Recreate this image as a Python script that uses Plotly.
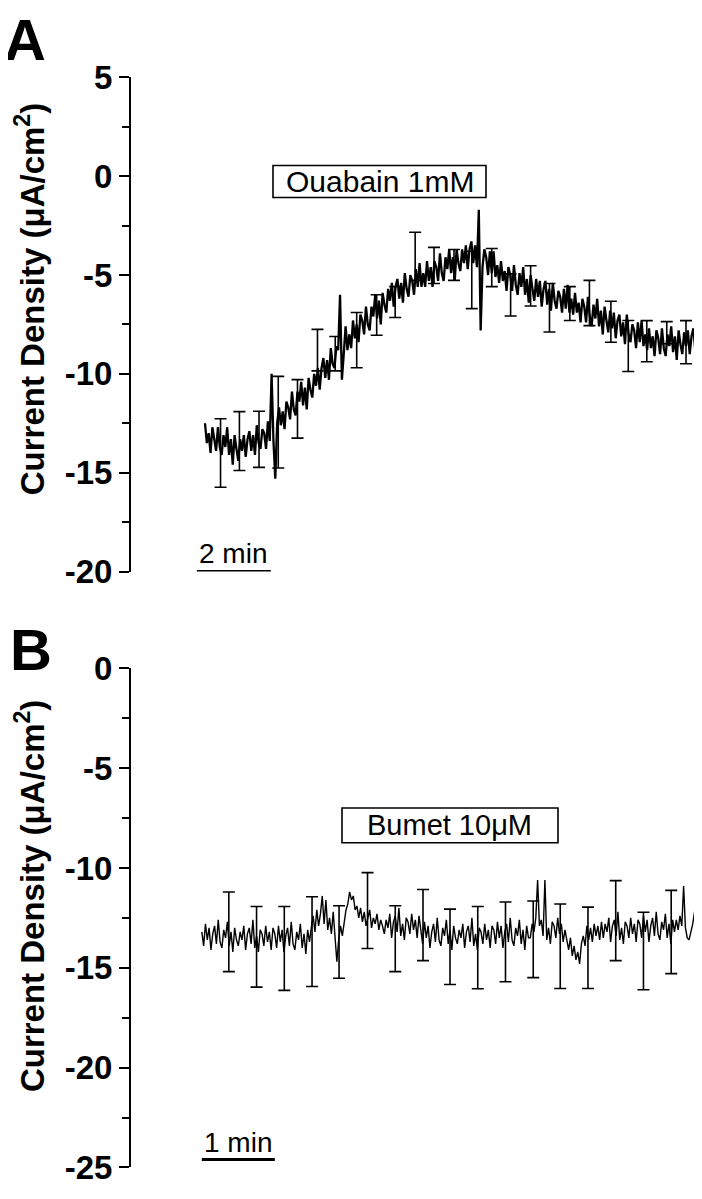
import plotly.graph_objects as go

# page body has an 8px margin, so the figure is drawn 8px smaller and positions are shifted
OFF = 8
FW, FH = 702 - OFF, 1199 - OFF

# ---- panel A: ouabain trace (minutes, uA/cm2), sampled every 0.05 min from 2.0 ----
a_t0, a_dt = 2.0, 0.05
a_vals = [
    -12.5, -13.5, -13.0, -14.0, -12.7, -13.2, -13.9, -12.7, -13.7, -14.1, -13.1, -13.7, -12.7, -14.1, -13.3, -14.6, -13.1, -13.8, -14.4, -13.3,
    -13.9, -13.1, -14.2, -13.3, -12.9, -13.9, -13.1, -14.1, -12.6, -13.5, -13.8, -12.8, -13.0, -13.8, -12.4, -13.4, -10.0, -13.4, -15.3, -12.5,
    -11.7, -12.6, -11.9, -12.8, -11.4, -11.7, -12.3, -10.9, -11.8, -12.1, -10.9, -11.4, -10.4, -11.6, -10.7, -11.8, -10.2, -10.8, -11.2, -10.0,
    -10.6, -9.7, -10.8, -9.7, -9.2, -10.2, -9.3, -10.3, -8.7, -9.5, -9.7, -8.6, -8.8, -6.0, -10.3, -9.0, -7.6, -8.8, -8.0, -8.7,
    -7.3, -8.2, -7.5, -8.4, -7.0, -7.3, -8.0, -6.6, -7.5, -7.8, -6.6, -7.1, -6.0, -7.2, -6.3, -7.5, -5.9, -6.5, -6.9, -5.7,
    -6.3, -5.4, -6.6, -5.6, -5.2, -6.2, -5.4, -6.4, -4.9, -5.7, -6.1, -5.0, -5.3, -6.0, -4.7, -5.6, -4.4, -5.6, -4.9, -5.6,
    -4.3, -5.3, -4.6, -5.6, -4.3, -4.6, -5.3, -3.9, -4.9, -5.3, -4.1, -4.7, -3.7, -4.9, -4.1, -5.3, -3.7, -4.4, -4.8, -3.7,
    -4.4, -3.5, -4.7, -3.7, -3.3, -4.4, -3.5, -4.6, -1.7, -7.8, -4.6, -3.7, -4.1, -5.0, -3.8, -4.9, -3.8, -5.1, -4.5, -5.4,
    -4.3, -5.3, -4.8, -5.8, -4.6, -5.0, -5.8, -4.5, -5.5, -6.0, -4.9, -5.6, -4.6, -6.0, -5.2, -6.4, -5.0, -5.7, -6.3, -5.2,
    -6.1, -5.3, -6.6, -5.7, -5.3, -6.5, -5.7, -6.8, -5.4, -6.3, -6.7, -5.8, -6.1, -6.9, -5.7, -6.7, -5.5, -6.9, -6.2, -7.0,
    -5.9, -6.9, -6.4, -7.4, -6.2, -6.6, -7.4, -6.1, -7.1, -7.6, -6.5, -7.2, -6.2, -7.6, -6.8, -8.0, -6.6, -7.3, -7.9, -6.8,
    -7.7, -6.9, -8.2, -7.3, -7.0, -8.1, -7.4, -8.5, -7.0, -8.0, -8.4, -7.5, -7.8, -8.7, -7.4, -8.4, -7.3, -8.6, -8.0, -8.8,
    -7.7, -8.7, -8.1, -9.1, -7.8, -8.2, -9.0, -7.7, -8.7, -9.1, -8.0, -8.6, -7.6, -8.9, -8.1, -9.3, -7.8, -8.5, -9.0, -7.9,
    -8.6, -7.8, -9.0, -8.1, -7.7, -8.8,
]
a_err_t = [2.42, 2.93, 3.46, 3.98, 4.50, 5.04, 5.52, 6.10, 6.64, 7.14, 7.68, 8.19, 8.73,
           9.21, 9.75, 10.26, 10.80, 11.31, 11.86, 12.39, 12.97, 13.44, 13.94, 14.48, 15.0]
a_err_top = [-12.27, -11.91, -11.89, -10.13, -10.29, -7.75, -8.11, -6.9, -6.0, -5.59, -2.84, -3.6, -3.71,
             -3.8, -3.66, -4.94, -4.53, -5.43, -5.59, -5.27, -6.33, -7.3, -7.31, -7.36, -7.31]
a_err_bot = [-15.74, -14.89, -14.73, -14.76, -13.25, -9.85, -9.85, -9.69, -8.05, -7.15, -5.27, -5.43, -5.27,
             -6.70, -5.59, -7.07, -6.57, -7.88, -7.3, -7.56, -8.4, -9.88, -9.39, -8.48, -9.49]

# ---- panel B: bumetanide trace, sampled every 0.025 min from 0.97 ----
b_t0, b_dt = 0.97, 0.025
b_vals = [
    -13.2, -13.9, -12.8, -13.6, -13.0, -14.1, -13.3, -12.9, -13.8, -12.6, -13.7, -14.0, -13.1, -13.5, -12.7, -13.9, -13.2, -14.2, -13.0, -13.6,
    -13.9, -13.2, -13.6, -12.9, -14.1, -13.3, -13.0, -13.8, -12.6, -14.0, -13.4, -14.2, -13.1, -13.3, -13.9, -12.9, -13.7, -13.2, -14.1, -13.0,
    -13.3, -14.0, -12.9, -13.7, -13.1, -14.2, -13.4, -13.0, -13.9, -12.7, -13.8, -14.1, -13.2, -13.6, -12.8, -14.0, -13.3, -14.3, -13.1, -13.7,
    -13.0, -12.4, -13.2, -12.1, -12.9, -12.3, -11.4, -12.8, -11.6, -13.1, -12.5, -13.3, -12.2, -13.5, -14.7, -13.6, -12.9, -13.4, -12.6, -12.1,
    -11.8, -11.2, -11.6, -11.4, -12.1, -11.9, -12.5, -12.0, -12.7, -12.2, -12.9, -12.4, -12.1, -13.0, -12.5, -12.8, -12.3, -13.1, -12.6, -12.9,
    -13.3, -12.6, -13.0, -12.3, -13.5, -12.7, -12.4, -13.2, -12.0, -13.4, -12.8, -13.6, -12.5, -12.7, -13.3, -12.3, -13.1, -12.6, -13.5, -12.4,
    -13.1, -13.8, -12.7, -13.5, -12.9, -14.0, -13.2, -12.8, -13.7, -12.5, -13.6, -13.9, -13.0, -13.4, -12.6, -13.8, -13.1, -14.1, -12.9, -13.5,
    -13.8, -13.1, -13.5, -12.8, -14.0, -13.2, -12.9, -13.7, -12.5, -13.9, -13.3, -14.1, -13.0, -13.2, -13.8, -12.8, -13.6, -13.1, -14.0, -12.9,
    -13.1, -13.8, -12.7, -13.5, -12.9, -14.0, -13.2, -12.8, -13.7, -12.5, -13.6, -13.9, -13.0, -13.4, -12.6, -13.8, -13.1, -14.1, -12.9, -13.5,
    -13.5, -12.8, -13.2, -12.5, -10.6, -12.9, -12.6, -13.4, -10.6, -13.6, -13.0, -13.8, -12.7, -12.9, -13.5, -12.5, -13.3, -12.8, -13.7, -13.1,
    -13.6, -14.1, -13.5, -14.4, -13.9, -14.6, -14.2, -14.8, -13.8, -13.4, -13.9, -12.9, -13.6, -13.0, -13.7, -12.8, -13.4, -12.9, -13.6, -12.7,
    -13.5, -12.8, -13.2, -12.5, -13.7, -12.9, -12.6, -13.4, -12.2, -13.6, -13.0, -13.8, -12.7, -12.9, -13.5, -12.5, -13.3, -12.8, -13.7, -12.6,
    -12.8, -13.5, -12.4, -13.2, -12.6, -13.7, -12.9, -12.5, -13.4, -12.2, -13.3, -13.6, -12.7, -13.1, -12.3, -13.5, -12.8, -13.8, -12.6, -13.2,
    -12.6, -13.1, -12.4, -12.9, -10.9, -13.0, -13.5, -13.6, -13.2, -12.8, -12.2, -11.6, -11.2,
]
b_err_t = [1.34, 1.72, 2.10, 2.48, 2.85, 3.24, 3.62, 4.00, 4.37, 4.75, 5.13, 5.51, 5.88, 6.26, 6.64, 7.02, 7.40]
b_err_top = [-11.2, -11.93, -11.93, -11.44, -11.89, -10.23, -11.89, -11.08, -12.06, -11.93, -11.70,
             -11.65, -11.80, -11.96, -10.63, -12.22, -11.12]
b_err_bot = [-15.19, -15.97, -16.13, -15.94, -15.52, -14.03, -15.19, -14.64, -15.84, -16.05, -15.70,
             -15.49, -16.04, -16.04, -14.64, -16.10, -15.29]

a_t = [a_t0 + a_dt * i for i in range(len(a_vals))]
b_t = [b_t0 + b_dt * i for i in range(len(b_vals))]


# screen pixel -> paper coordinate
def px(x):
    return (x - OFF) / FW


def py(y):
    return 1 - (y - OFF) / FH


def err_trace(t, top, bot, xa, ya):
    mid = [(u + d) / 2 for u, d in zip(top, bot)]
    half = [(u - d) / 2 for u, d in zip(top, bot)]
    return go.Scatter(x=t, y=mid, mode="markers", xaxis=xa, yaxis=ya,
                      marker=dict(size=1, color="rgba(0,0,0,0)"),
                      error_y=dict(type="data", array=half, color="black", thickness=1.6, width=6),
                      showlegend=False, hoverinfo="skip")


fig = go.Figure()
fig.add_trace(go.Scatter(x=a_t, y=a_vals, mode="lines", line=dict(color="black", width=2.3),
                         xaxis="x", yaxis="y", showlegend=False))
fig.add_trace(err_trace(a_err_t, a_err_top, a_err_bot, "x", "y"))
fig.add_trace(go.Scatter(x=b_t, y=b_vals, mode="lines", line=dict(color="black", width=1.4),
                         xaxis="x2", yaxis="y2", showlegend=False))
fig.add_trace(err_trace(b_err_t, b_err_top, b_err_bot, "x2", "y2"))

FONT = "Liberation Sans, Arial"
tickfont = dict(family=FONT, size=33, color="black", weight="bold")
yax = dict(showline=True, linewidth=2, linecolor="black", ticks="outside", ticklen=10, tickwidth=2,
           tickcolor="black", showgrid=False, zeroline=False, tickfont=tickfont,
           minor=dict(ticks="outside", ticklen=7, tickwidth=2, tickcolor="black", dtick=2.5, showgrid=False))
x_left = 131
xax = dict(visible=False, domain=[px(x_left), 1])
plot_w = FW - (x_left - OFF)

a_ticks = [-20, -15, -10, -5, 0, 5]
b_ticks = [-25, -20, -15, -10, -5, 0]

fig.update_layout(
    width=FW, height=FH, margin=dict(l=0, r=0, t=0, b=0),
    plot_bgcolor="white", paper_bgcolor="white",
    xaxis=dict(xax, range=[0, plot_w / 37], anchor="y"),
    yaxis=dict(yax, range=[-20, 5], domain=[py(571), py(61)], anchor="x",
               tickvals=a_ticks, ticktext=[str(v) for v in a_ticks]),
    xaxis2=dict(xax, range=[0, plot_w / 73], anchor="y2"),
    yaxis2=dict(yax, range=[-25, 0], domain=[py(1186), py(671)], anchor="x2",
                tickvals=b_ticks, ticktext=[str(v) for v in b_ticks]),
)

# scale bars
fig.add_shape(type="line", xref="x", yref="y", x0=1.78, x1=1.78 + 2, y0=-20, y1=-20,
              line=dict(color="black", width=3))
fig.add_shape(type="line", xref="x2", yref="y2", x0=0.97, x1=0.97 + 1, y0=-24.6, y1=-24.6,
              line=dict(color="black", width=3))

# drug application boxes
for x0, x1, y0, y1 in [(273, 486, 152, 185), (342, 558, 815, 851)]:
    fig.add_shape(type="rect", xref="paper", yref="paper", x0=px(x0), x1=px(x1), y0=py(y1), y1=py(y0),
                  line=dict(color="black", width=1.6), fillcolor="white", layer="above")

reg = dict(family=FONT, size=30, color="black")
bold = dict(family=FONT, size=33, color="black", weight="bold")
letter = dict(family=FONT, size=58, color="black", weight="bold")
ylab = "Current Density (μA/cm<sup>2</sup>)"
anns = [
    dict(text="A", x=px(25), y=py(22), font=letter),
    dict(text="B", x=px(31), y=py(652), font=letter),
    dict(text=ylab, x=px(30), y=py(290), textangle=-90, font=bold),
    dict(text=ylab, x=px(30), y=py(906), textangle=-90, font=bold),
    dict(text="Ouabain 1mM", x=px(380), y=py(169), font=reg),
    dict(text="Bumet 10μM", x=px(450), y=py(833), font=dict(reg, size=29)),
    dict(text="2 min", x=px(233), y=py(552), font=dict(reg, size=28)),
    dict(text="1 min", x=px(238), y=py(1160), font=dict(reg, size=28)),
]
for a in anns:
    a.update(xref="paper", yref="paper", showarrow=False, xanchor="center", yanchor="middle")
    fig.add_annotation(**a)

fig.write_html("out.html")
